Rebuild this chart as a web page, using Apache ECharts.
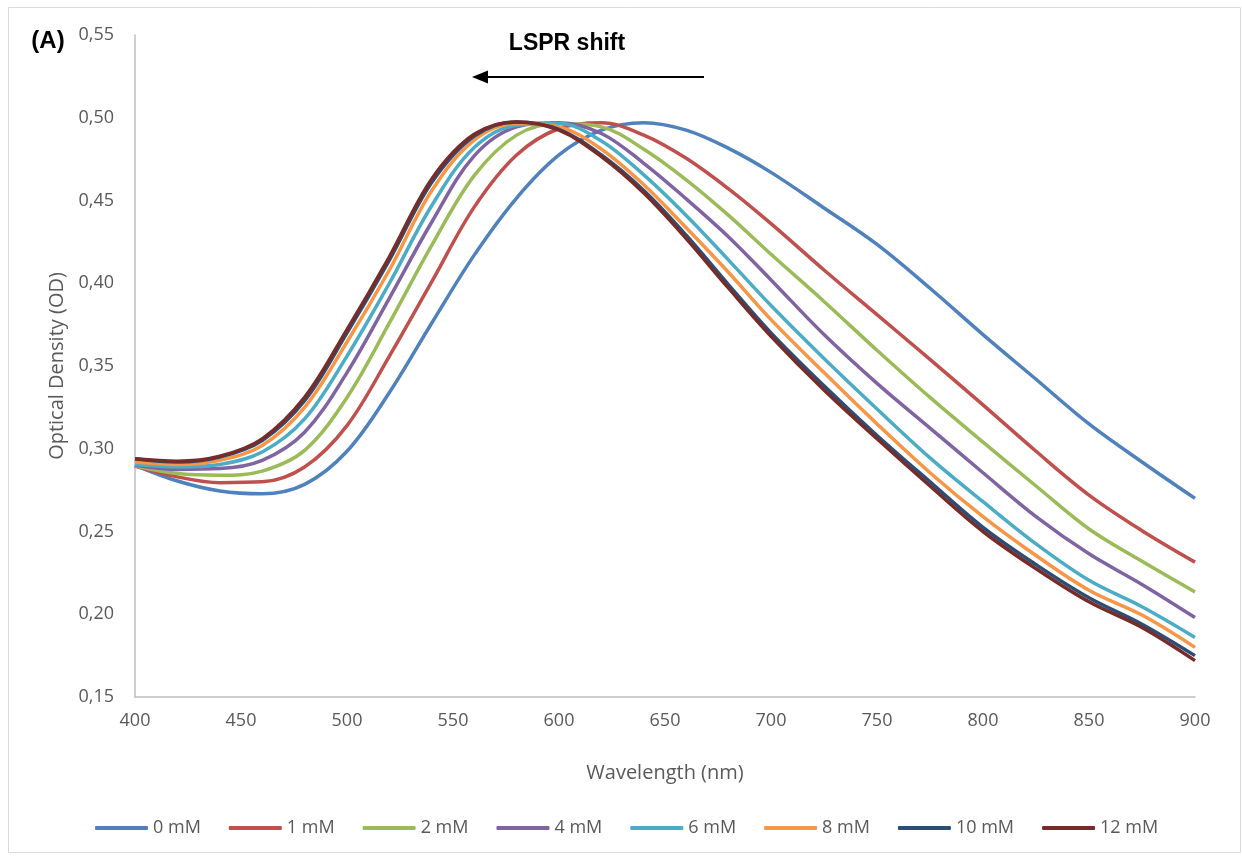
<!DOCTYPE html>
<html>
	<head>
		<meta charset="utf-8">
		<title></title>
	</head>
	<style type="text/css">
		html, body {
			margin: 0;
			padding: 0;
			background: #fff;
		}
		#graphical {
			width: 1242px;
			height: 859px;
		}
	</style>
	<body>
		<div id="graphical"></div>
		<script src="https://cdn.jsdelivr.net/npm/echarts@6/dist/echarts.min.js" type="text/javascript" charset="utf-8"></script>
		<script type="text/javascript">
			// wavelength (nm) and optical density
			var wavelengths = [400, 420, 440, 460, 480, 500, 520, 540, 560, 580, 600, 620, 640, 660, 680, 700, 725, 750, 775, 800, 825, 850, 875, 900];
			var od0 = [0.290, 0.2805, 0.2745, 0.2728, 0.2785, 0.2985, 0.334, 0.376, 0.417, 0.4515, 0.4775, 0.4925, 0.497, 0.4925, 0.4815, 0.467, 0.4455, 0.4235, 0.397, 0.369, 0.342, 0.315, 0.292, 0.270];
			var od1 = [0.2895, 0.283, 0.2795, 0.280, 0.289, 0.314, 0.356, 0.401, 0.446, 0.4775, 0.4935, 0.497, 0.4895, 0.4755, 0.457, 0.436, 0.408, 0.381, 0.354, 0.3265, 0.2985, 0.272, 0.2505, 0.2315];
			var od2 = [0.2895, 0.285, 0.284, 0.2865, 0.299, 0.331, 0.376, 0.423, 0.465, 0.4895, 0.4965, 0.4945, 0.481, 0.4625, 0.441, 0.4175, 0.389, 0.3595, 0.331, 0.304, 0.2775, 0.2515, 0.232, 0.2135];
			var od4 = [0.290, 0.2875, 0.288, 0.293, 0.310, 0.346, 0.391, 0.437, 0.477, 0.4945, 0.497, 0.4905, 0.4725, 0.451, 0.428, 0.402, 0.369, 0.3395, 0.3125, 0.2855, 0.259, 0.2365, 0.218, 0.198];
			var od6 = [0.2905, 0.289, 0.2905, 0.298, 0.318, 0.356, 0.400, 0.447, 0.482, 0.4955, 0.4965, 0.486, 0.4655, 0.441, 0.414, 0.3865, 0.3545, 0.324, 0.2945, 0.268, 0.2425, 0.2205, 0.2045, 0.186];
			var od8 = [0.292, 0.2905, 0.293, 0.302, 0.325, 0.3645, 0.408, 0.456, 0.4865, 0.4965, 0.4945, 0.481, 0.4595, 0.4335, 0.4065, 0.378, 0.346, 0.315, 0.2855, 0.259, 0.2355, 0.2145, 0.1995, 0.180];
			var od10 = [0.294, 0.292, 0.295, 0.305, 0.329, 0.370, 0.414, 0.461, 0.489, 0.4975, 0.493, 0.4775, 0.456, 0.429, 0.399, 0.370, 0.338, 0.308, 0.280, 0.2525, 0.230, 0.210, 0.194, 0.175];
			var od12 = [0.294, 0.2925, 0.2955, 0.306, 0.331, 0.372, 0.416, 0.463, 0.490, 0.4975, 0.4925, 0.4765, 0.4545, 0.427, 0.397, 0.368, 0.3355, 0.306, 0.2775, 0.250, 0.2275, 0.2075, 0.192, 0.172];

			var seriesNames = ['0 mM', '1 mM', '2 mM', '4 mM', '6 mM', '8 mM', '10 mM', '12 mM'];
			var seriesValues = [od0, od1, od2, od4, od6, od8, od10, od12];
			var colorList = ['#4F81BD', '#C0504D', '#9BBB59', '#8064A2', '#4BACC6', '#F79646', '#2C4D75', '#772C2A'];

			var chart = echarts.init(document.getElementById('graphical'));

			var series = [];
			for (var i = 0; i < seriesNames.length; i++) {
				var pts = [];
				for (var j = 0; j < wavelengths.length; j++) {
					pts.push([wavelengths[j], seriesValues[i][j]]);
				}
				series.push({
					name: seriesNames[i],
					type: 'line',
					data: pts,
					smooth: 0.35,
					showSymbol: false,
					symbol: 'none',
					color: colorList[i],
					lineStyle: {
						width: 3.5,
						color: colorList[i]
					}
				});
			}

			var labelFont = '"Open Sans", "Liberation Sans", sans-serif';

			var option = {
				animation: false,
				backgroundColor: '#fff',
				grid: {
					left: 135,
					right: 47,
					top: 35,
					bottom: 162
				},
				legend: {
					data: seriesNames,
					left: 90,
					top: 814,
					icon: 'roundRect',
					itemWidth: 53,
					itemHeight: 4,
					itemGap: 28,
					textStyle: {
						color: '#595959',
						fontSize: 18,
						fontFamily: labelFont
					}
				},
				xAxis: {
					type: 'value',
					min: 400,
					max: 900,
					interval: 50,
					name: 'Wavelength (nm)',
					nameLocation: 'middle',
					nameGap: 66,
					nameTextStyle: {
						color: '#595959',
						fontSize: 20,
						fontFamily: labelFont
					},
					axisLine: {
						lineStyle: {
							color: '#bfbfbf',
							width: 1.5
						}
					},
					axisTick: {
						show: false
					},
					splitLine: {
						show: false
					},
					axisLabel: {
						color: '#595959',
						fontSize: 18,
						fontFamily: labelFont,
						margin: 15
					}
				},
				yAxis: {
					type: 'value',
					min: 0.15,
					max: 0.55,
					interval: 0.05,
					name: 'Optical Density (OD)',
					nameLocation: 'middle',
					nameGap: 65,
					nameTextStyle: {
						color: '#595959',
						fontSize: 20,
						fontFamily: labelFont
					},
					axisLine: {
						show: true,
						lineStyle: {
							color: '#bfbfbf',
							width: 1.5
						}
					},
					axisTick: {
						show: false
					},
					splitLine: {
						show: false
					},
					axisLabel: {
						color: '#595959',
						fontSize: 18,
						fontFamily: labelFont,
						margin: 21,
						formatter: function(v) {
							return v.toFixed(2).replace('.', ',');
						}
					}
				},
				graphic: [{
					type: 'rect',
					shape: { x: 8.5, y: 7.5, width: 1232, height: 845 },
					style: { fill: 'none', stroke: '#d9d9d9', lineWidth: 1 },
					silent: true
				}, {
					type: 'text',
					x: 48,
					y: 41,
					style: {
						text: '(A)',
						align: 'center',
						verticalAlign: 'middle',
						font: 'bold 24px "Liberation Sans"',
						fill: '#000'
					}
				}, {
					type: 'text',
					x: 567,
					y: 44,
					style: {
						text: 'LSPR shift',
						align: 'center',
						verticalAlign: 'middle',
						font: 'bold 23px "Liberation Sans"',
						fill: '#000'
					}
				}, {
					// arrow pointing to shorter wavelengths
					type: 'line',
					shape: { x1: 484, y1: 77, x2: 704, y2: 77 },
					style: { stroke: '#000', lineWidth: 2 }
				}, {
					type: 'polygon',
					shape: { points: [[472, 77], [488, 70.5], [488, 83.5]] },
					style: { fill: '#000' }
				}],
				series: series
			};

			chart.setOption(option);
			window.onresize = function() {
				chart.resize();
			}
		</script>
	</body>
</html>
